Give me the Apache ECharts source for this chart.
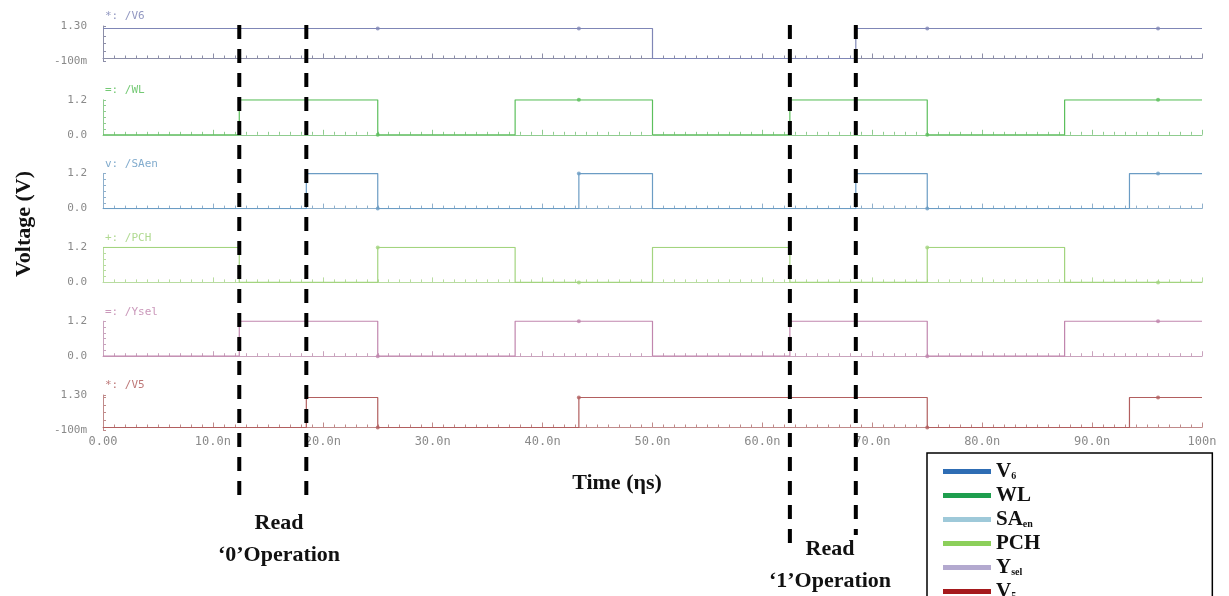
<!DOCTYPE html>
<html>
<head>
<meta charset="utf-8">
<style>
  html, body { margin: 0; padding: 0; background: #fff; }
  #main { width: 1229px; height: 596px; }
</style>
<script src="https://cdn.jsdelivr.net/npm/echarts@6/dist/echarts.min.js"></script>
</head>
<body>
<div id="main"></div>
<script>
// 信号数据：每个信号的跳变时刻 (ns) 和对应电平 (V)
var signalNames = ["V6", "WL", "SAen", "PCH", "Ysel", "V5"];
var v6Edges = [0, 50, 68.5, 100];
var v6Levels = [1.2, 0, 1.2, 1.2];
var wlEdges = [0, 12.4, 25, 37.5, 50, 62.5, 75, 87.5, 100];
var wlLevels = [0, 1.2, 0, 1.2, 0, 1.2, 0, 1.2, 1.2];
var saenEdges = [0, 18.5, 25, 43.3, 50, 68.5, 75, 93.4, 100];
var saenLevels = [0, 1.2, 0, 1.2, 0, 1.2, 0, 1.2, 1.2];
var pchEdges = [0, 12.4, 25, 37.5, 50, 62.5, 75, 87.5, 100];
var pchLevels = [1.2, 0, 1.2, 0, 1.2, 0, 1.2, 0, 0];
var yselEdges = [0, 12.4, 25, 37.5, 50, 62.5, 75, 87.5, 100];
var yselLevels = [0, 1.2, 0, 1.2, 0, 1.2, 0, 1.2, 1.2];
var v5Edges = [0, 18.5, 25, 43.3, 75, 93.4, 100];
var v5Levels = [0, 1.2, 0, 1.2, 0, 1.2, 1.2];
// 标记点时刻
var markerTimes = [25, 43.3, 75, 96];
// 纵轴范围
var axisMins = [-0.1, 0, 0, 0, 0, -0.1];
var axisMaxs = [1.3, 1.2, 1.2, 1.2, 1.2, 1.3];
// 读操作虚线时刻
var readTimes = [12.4, 18.5, 62.5, 68.5];

(function () {
  var myChart = echarts.init(document.getElementById("main"));

  var edges = [v6Edges, wlEdges, saenEdges, pchEdges, yselEdges, v5Edges];
  var levels = [v6Levels, wlLevels, saenLevels, pchLevels, yselLevels, v5Levels];
  // 波形颜色
  var traceColors = ["#7f86b6", "#5cbf5c", "#6b9cc4", "#a3d47f", "#c186ae", "#b25f5f"];
  var axisColors = ["#8c8ea8", "#8fcc8f", "#8fb0cc", "#b8dca0", "#c9a3bd", "#c08a8a"];
  var tagText = ["*: /V6", "=: /WL", "v: /SAen", "+: /PCH", "=: /Ysel", "*: /V5"];
  // 图例颜色
  var legendColors = ["#2e6db4", "#1e9e4e", "#9ec9d9", "#8ccf5a", "#b3a9cf", "#a5191c"];
  var legendText = {
    V6: "{m|V}{s|6}",
    WL: "{m|WL}",
    SAen: "{m|SA}{s|en}",
    PCH: "{m|PCH}",
    Ysel: "{m|Y}{s|sel}",
    V5: "{m|V}{s|5}",
  };

  var mono = "DejaVu Sans Mono";
  var serif = "Liberation Serif";

  var grids = [], xAxes = [], yAxes = [], series = [];

  function levelAt(i, t) {
    var e = edges[i], l = levels[i], v = l[0];
    for (var k = 0; k < e.length; k++) {
      if (e[k] <= t) v = l[k];
    }
    return v;
  }

  function yLabel(v) {
    if (v === -0.1) return "-100m";
    if (v === 1.3) return "1.30";
    return v.toFixed(1);
  }

  function xLabel(v) {
    if (v === 0) return "0.00";
    if (v === 100) return "100n";
    return v.toFixed(1) + "n";
  }

  for (var i = 0; i < 6; i++) {
    var top = 26 + 73.8 * i;
    grids.push({ left: 103, width: 1099, top: top, height: 35 });
    xAxes.push({
      type: "value",
      gridIndex: i,
      min: 0,
      max: 100,
      interval: 10,
      axisLine: { show: true, lineStyle: { color: axisColors[i], width: 1 } },
      axisTick: { show: true, inside: true, length: 5, lineStyle: { color: axisColors[i] } },
      minorTick: { show: true, splitNumber: 10, length: 3, lineStyle: { color: axisColors[i] } },
      splitLine: { show: false },
      axisLabel: {
        show: i === 5,
        formatter: xLabel,
        fontFamily: mono,
        fontSize: 12,
        color: "#8a8a8a",
        margin: 6,
      },
    });
    yAxes.push({
      type: "value",
      gridIndex: i,
      min: axisMins[i],
      max: axisMaxs[i],
      axisLine: { show: true, lineStyle: { color: axisColors[i], width: 1 } },
      axisTick: { show: true, inside: true, length: 3, lineStyle: { color: axisColors[i] } },
      splitLine: { show: false },
      axisLabel: {
        customValues: [axisMins[i], axisMaxs[i]],
        formatter: yLabel,
        fontFamily: mono,
        fontSize: 11,
        color: "#8a8a8a",
        margin: 16,
      },
    });
    var pts = [];
    for (var k = 0; k < edges[i].length; k++) {
      pts.push([edges[i][k], levels[i][k]]);
    }
    series.push({
      name: signalNames[i],
      type: "line",
      xAxisIndex: i,
      yAxisIndex: i,
      step: "end",
      data: pts,
      showSymbol: false,
      silent: true,
      lineStyle: { color: traceColors[i], width: 1.2 },
      itemStyle: { color: traceColors[i] },
    });
    var marks = [];
    for (var m = 0; m < markerTimes.length; m++) {
      marks.push([markerTimes[m], levelAt(i, markerTimes[m])]);
    }
    series.push({
      name: signalNames[i] + "-mark",
      type: "scatter",
      xAxisIndex: i,
      yAxisIndex: i,
      data: marks,
      symbolSize: 4,
      silent: true,
      itemStyle: { color: traceColors[i] },
    });
  }

  var legendData = signalNames.map(function (n, i) {
    return { name: n, icon: "rect", itemStyle: { color: legendColors[i] } };
  });

  var graphics = [];
  // 信号名标签
  for (var j = 0; j < 6; j++) {
    graphics.push({
      type: "text",
      left: 105,
      top: 11 + 73.8 * j,
      style: { text: tagText[j], fill: traceColors[j], font: "11px " + mono, opacity: 0.85 },
    });
  }
  graphics.push({
    type: "text",
    x: 24,
    y: 224,
    rotation: Math.PI / 2,
    style: { text: "Voltage (V)", font: "bold 22px " + serif, fill: "#111", align: "center", verticalAlign: "middle" },
  });
  graphics.push({
    type: "text",
    x: 617,
    y: 483,
    style: { text: "Time (ηs)", font: "bold 22px " + serif, fill: "#111", align: "center", verticalAlign: "middle" },
  });
  graphics.push({
    type: "text",
    x: 279,
    y: 539,
    style: { text: "Read\n‘0’Operation", font: "bold 22px " + serif, fill: "#111", align: "center", verticalAlign: "middle", lineHeight: 32 },
  });
  graphics.push({
    type: "text",
    x: 830,
    y: 565,
    style: { text: "Read\n‘1’Operation", font: "bold 22px " + serif, fill: "#111", align: "center", verticalAlign: "middle", lineHeight: 32 },
  });

  var option = {
    animation: false,
    grid: grids,
    xAxis: xAxes,
    yAxis: yAxes,
    series: series,
    legend: {
      data: legendData,
      orient: "vertical",
      left: 927,
      top: 453,
      height: 300,
      itemWidth: 48,
      itemHeight: 5,
      itemGap: 3,
      padding: [8, 172, 10, 16],
      borderColor: "#000",
      borderWidth: 1.5,
      selectedMode: false,
      formatter: function (name) {
        return legendText[name];
      },
      textStyle: {
        rich: {
          m: { fontFamily: serif, fontWeight: "bold", fontSize: 21, lineHeight: 20, color: "#111" },
          s: { fontFamily: serif, fontWeight: "bold", fontSize: 10, lineHeight: 20, verticalAlign: "bottom", color: "#111" },
        },
      },
    },
    graphic: graphics,
  };
  myChart.setOption(option);

  // 读操作虚线：按时刻换算到像素
  var lineBottoms = [495, 495, 545, 535];
  var dash = readTimes.map(function (t, i) {
    var x = myChart.convertToPixel({ xAxisIndex: 0 }, t);
    return {
      type: "line",
      shape: { x1: x, y1: 25, x2: x, y2: lineBottoms[i] },
      style: { stroke: "#000", lineWidth: 4, lineDash: [14, 10] },
      z: 100,
    };
  });
  myChart.setOption({ graphic: graphics.concat(dash) });

  window.addEventListener("resize", function () {
    myChart.resize();
  });
})();
</script>
</body>
</html>
